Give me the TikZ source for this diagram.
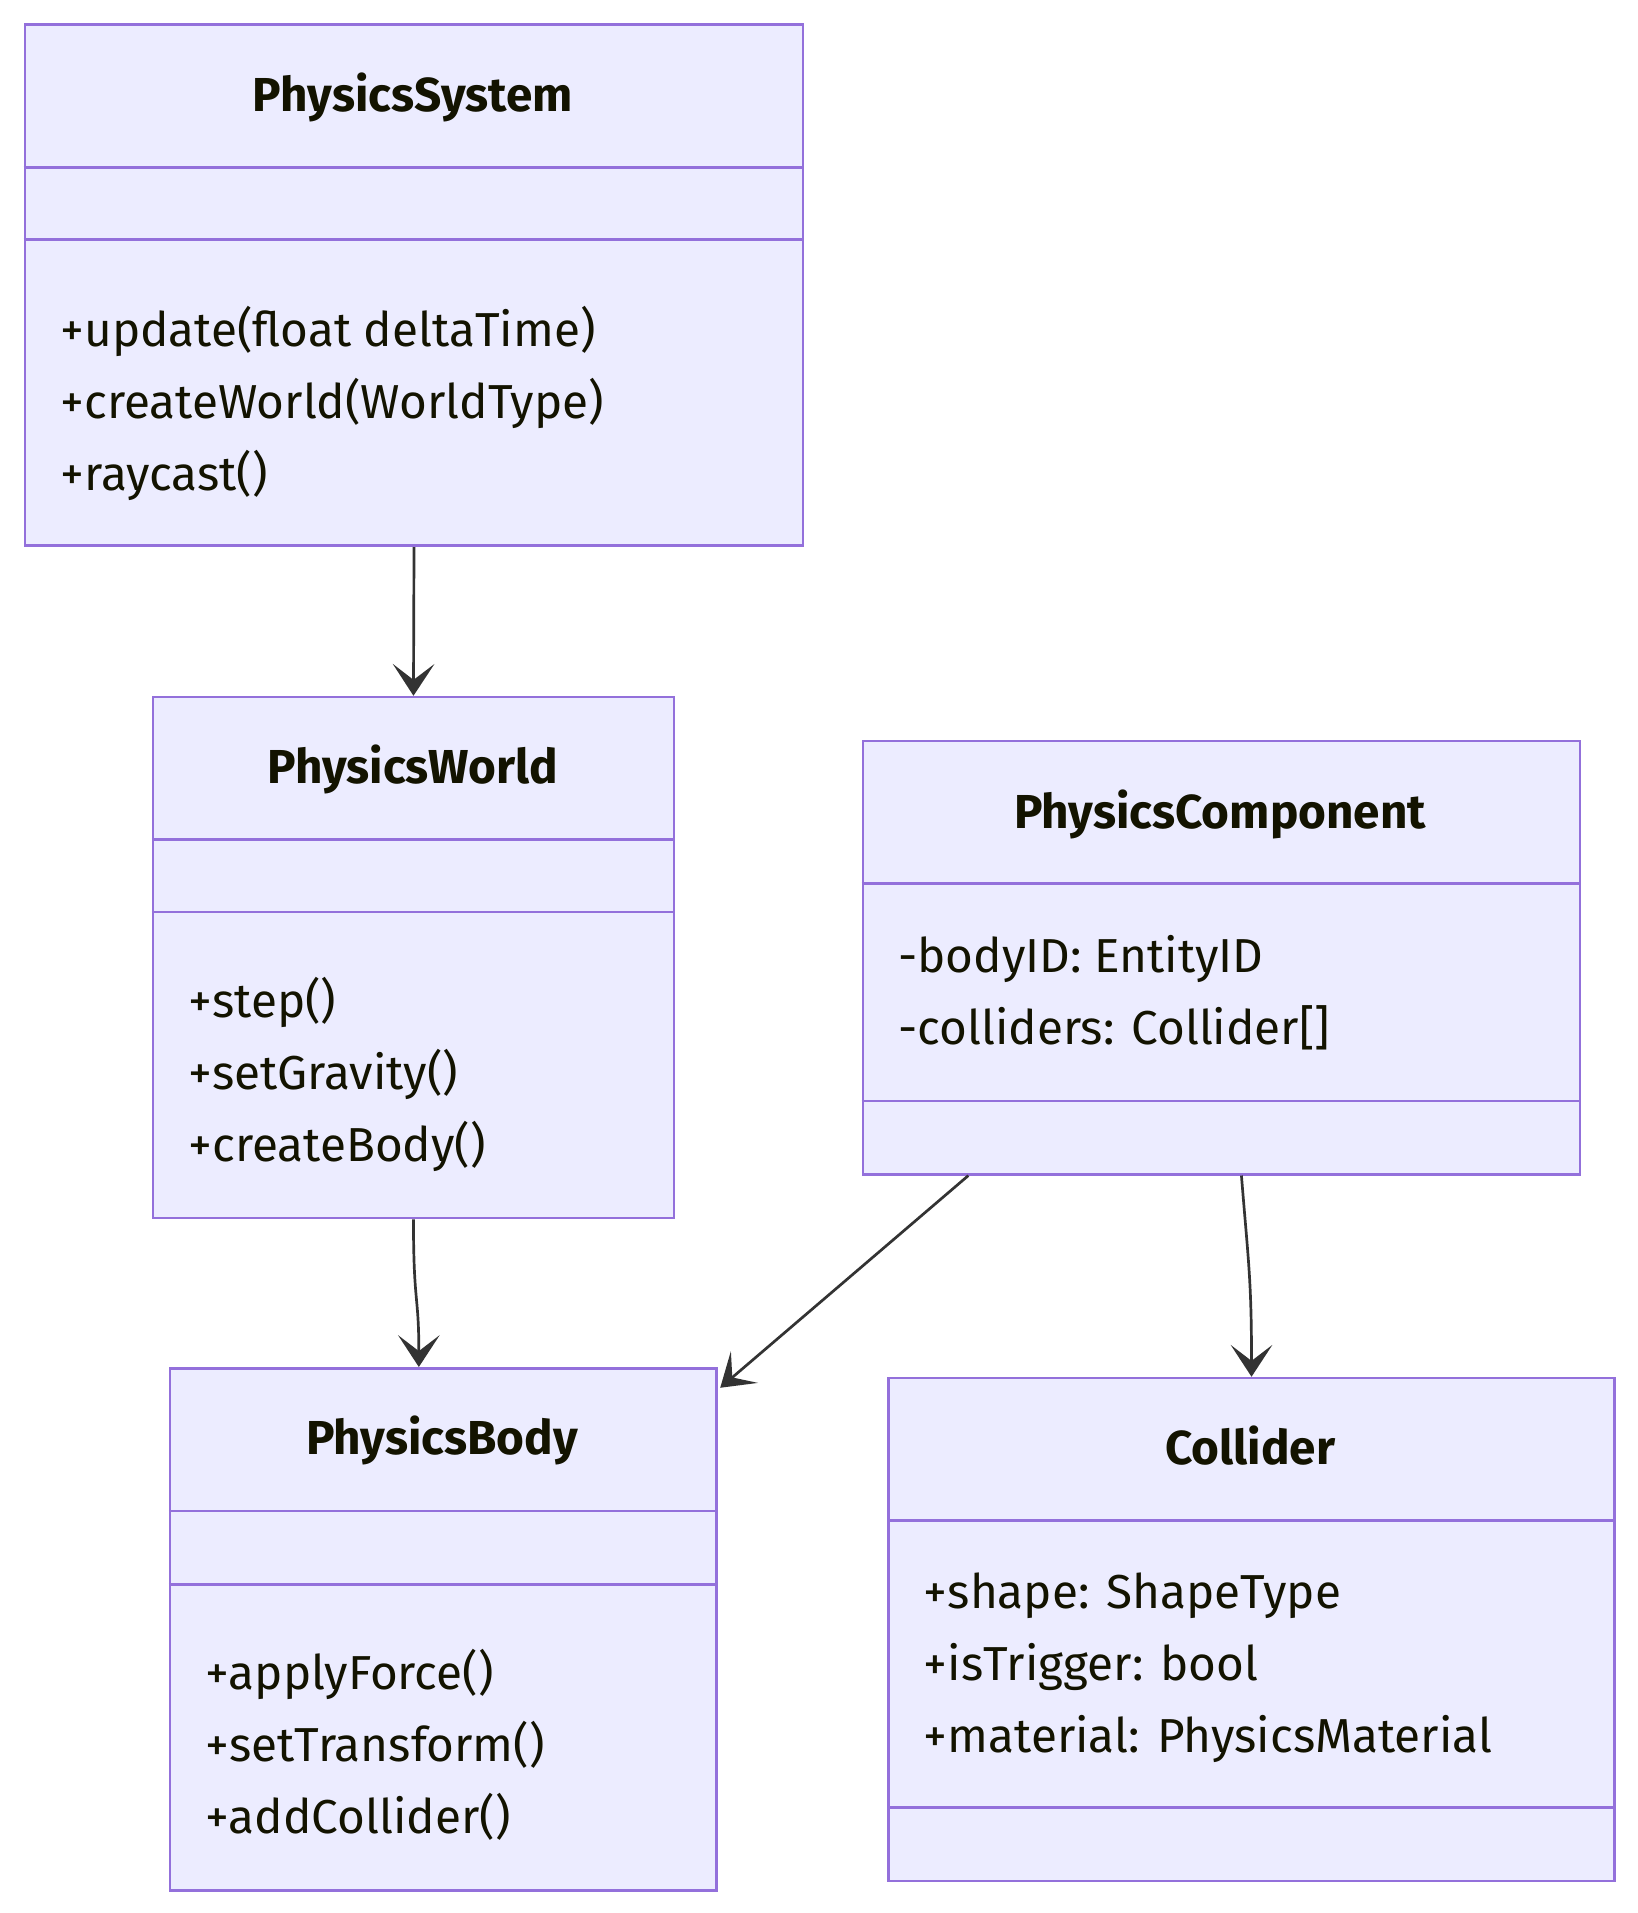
\documentclass[tikz,border=0pt]{standalone}
\usepackage{fontspec}
\setmainfont{Fira Sans}
\usetikzlibrary{arrows.meta,calc}
\definecolor{umlfill}{HTML}{ECECFF}
\definecolor{umlborder}{HTML}{9370DB}
\definecolor{umltext}{HTML}{131300}
\definecolor{umlline}{HTML}{333333}
\tikzset{
  classbox/.style={draw=umlborder, fill=umlfill, line width=2.1pt, inner sep=0pt, anchor=north west},
  divider/.style={draw=umlborder, line width=2.1pt},
  classtitle/.style={text=umltext, font=\fontsize{39}{46}\selectfont\bfseries, inner sep=0pt, anchor=base},
  member/.style={text=umltext, font=\fontsize{39}{46}\selectfont, inner sep=0pt, anchor=base west},
  assoc/.style={draw=umlline, line width=2.2pt, -{Stealth[length=26pt,width=34pt,inset=13pt]}},
}
\begin{document}
\begin{tikzpicture}[x=1pt,y=-1pt]
\useasboundingbox[fill=white] (0,0) rectangle (1340,1565);

% PhysicsSystem
\node[classbox, minimum width=636.5pt, minimum height=426.3pt] (sys) at (19.4,19.1) {};
\draw[divider] (sys.west |- 0,136.9) -- (sys.east |- 0,136.9);
\draw[divider] (sys.west |- 0,195.8) -- (sys.east |- 0,195.8);
\node[classtitle] (syst) at (337.7,91) {PhysicsSystem};
\node[member] (sysm1) at (49.3,283.7) {+update(float deltaTime)};
\node[member] (sysm2) at (49.3,342.6) {+createWorld(WorldType)};
\node[member] (sysm3) at (49.3,401.5) {+raycast()};

% PhysicsWorld
\node[classbox, minimum width=426pt, minimum height=426.3pt] (world) at (124.2,569.2) {};
\draw[divider] (world.west |- 0,687) -- (world.east |- 0,687);
\draw[divider] (world.west |- 0,746) -- (world.east |- 0,746);
\node[classtitle] (worldt) at (337.7,641.1) {PhysicsWorld};
\node[member] (worldm1) at (154.1,832.8) {+step()};
\node[member] (worldm2) at (154.1,891.7) {+setGravity()};
\node[member] (worldm3) at (154.1,950.6) {+createBody()};

% PhysicsComponent
\node[classbox, minimum width=586.7pt, minimum height=354.4pt] (comp) at (704.8,605.2) {};
\draw[divider] (comp.west |- 0,722.9) -- (comp.east |- 0,722.9);
\draw[divider] (comp.west |- 0,900.7) -- (comp.east |- 0,900.7);
\node[classtitle] (compt) at (998.1,678) {PhysicsComponent};
\node[member] (compa1) at (734.8,795.9) {-bodyID: EntityID};
\node[member] (compa2) at (734.8,854.7) {-colliders: Collider[]};

% PhysicsBody
\node[classbox, minimum width=447pt, minimum height=427.4pt] (body) at (138.1,1118.3) {};
\draw[divider] (body.west |- 0,1236.2) -- (body.east |- 0,1236.2);
\draw[divider] (body.west |- 0,1296.1) -- (body.east |- 0,1296.1);
\node[classtitle] (bodyt) at (361.6,1190.2) {PhysicsBody};
\node[member] (bodym1) at (168.1,1381.9) {+applyForce()};
\node[member] (bodym2) at (168.1,1440.8) {+setTransform()};
\node[member] (bodym3) at (168.1,1499.7) {+addCollider()};

% Collider
\node[classbox, minimum width=594pt, minimum height=411.4pt] (coll) at (725.8,1126.3) {};
\draw[divider] (coll.west |- 0,1244.1) -- (coll.east |- 0,1244.1);
\draw[divider] (coll.west |- 0,1478.8) -- (coll.east |- 0,1478.8);
\node[classtitle] (collt) at (1022.8,1198.2) {Collider};
\node[member] (colla1) at (755.7,1316) {+shape: ShapeType};
\node[member] (colla2) at (755.7,1374.9) {+isTrigger: bool};
\node[member] (colla3) at (755.7,1433.8) {+material: PhysicsMaterial};

% connectors
\draw[assoc] (sys.south) -- (world.north);
\draw[assoc] (world.south) .. controls ($(world.south)+(0,70)$) and ($(body.north)+(-20,-60)$) .. ([xshift=-20pt]body.north);
\draw[assoc] ([xshift=-207pt]comp.south) -- ([xshift=2pt,yshift=-17pt]body.north east);
\draw[assoc] ([xshift=16.4pt]comp.south) .. controls ($(comp.south)+(22,70)$) and ($(coll.north)+(0,-80)$) .. (coll.north);
\end{tikzpicture}
\end{document}
